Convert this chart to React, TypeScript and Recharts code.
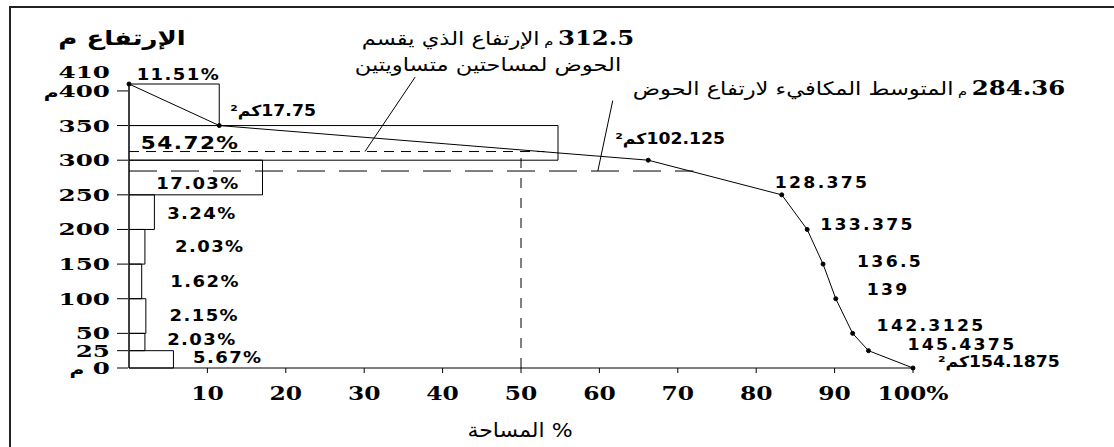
import React from 'react'
import {
  ComposedChart,
  Line,
  XAxis,
  YAxis,
  ReferenceArea,
  ReferenceLine,
  ReferenceDot,
  LabelList,
  Customized,
} from 'recharts'

// hypsometric curve: elevation (m) vs cumulative basin area (km²)
const elevations = [410, 350, 300, 250, 200, 150, 100, 50, 25, 0]
const cumulativeArea = [0, 17.75, 102.125, 128.375, 133.375, 136.5, 139, 142.3125, 145.4375, 154.1875]
const totalArea = 154.1875

// elevation bands and their share (%) of the basin area
const bandTop = [410, 350, 300, 250, 200, 150, 100, 50, 25]
const bandBottom = [350, 300, 250, 200, 150, 100, 50, 25, 0]
const bandShare = [11.51, 54.72, 17.03, 3.24, 2.03, 1.62, 2.15, 2.03, 5.67]

const yTicks = [0, 25, 50, 100, 150, 200, 250, 300, 350, 400, 410]
const xTicks = [10, 20, 30, 40, 50, 60, 70, 80, 90, 100]

const medianElevation = 312.5
const medianReach = 53
const meanElevation = 284.36
const meanReach = 72
const halfArea = 50

// points whose label carries the km² unit
const unitPoints = [1, 2, 9]

// label placement (offsets from point: left edge dx, baseline dy)
const pointLabelShift = [
  [0, 0], [11, -10], [-33, -16], [-7, -7], [13, 1], [34, 3], [31, -4], [24, -2], [39, -1], [25, -1],
]
// centre of each band label, in axis units
const shareLabelPos = [
  [6.3, 423], [7.8, 325], [8.8, 265], [9.3, 223], [10.3, 174], [9.7, 124], [9.6, 75], [9.3, 40], [12.6, 14],
]

const curve = elevations.map((elev, i) => ({
  pct: (cumulativeArea[i] / totalArea) * 100,
  elev,
  area: cumulativeArea[i],
}))

const INK = '#000'
const RLI = '\u2067'
const PDI = '\u2069'
const LRM = '\u200E'

// text stretched horizontally around its anchor
function WideText({ x, y, sx, anchor, children, ...rest }: any) {
  return (
    <g transform={`translate(${x},${y}) scale(${sx},1)`}>
      <text x={0} y={0} textAnchor={anchor} fill={INK} {...rest}>
        {children}
      </text>
    </g>
  )
}

function ElevationTick({ x, y, payload }: any) {
  const v = payload.value
  const lift = v === 410 ? -12 : 0
  const unit = v === 0 || v === 400
  return (
    <g>
      {v !== 410 && <line x1={x + 7} x2={x + 18} y1={y} y2={y} stroke={INK} />}
      <WideText x={x} y={y + 6 + lift} sx={1.45} anchor="end" fontFamily="DejaVu Serif" fontWeight="bold" fontSize={17}>
        {unit && (
          <tspan fontFamily="DejaVu Sans" fontWeight="bold" fontSize={14}>
            م
          </tspan>
        )}
        {v === 0 ? `${LRM} 0` : unit ? `${LRM}${v}` : v}
      </WideText>
    </g>
  )
}

function AreaTick({ x, y, payload }: any) {
  const v = payload.value
  return (
    <WideText x={x} y={y + 13} sx={1.3} anchor="middle" fontFamily="DejaVu Serif" fontWeight="bold" fontSize={18}>
      {v === 100 ? '100%' : v}
    </WideText>
  )
}

function renderPointLabel(props: any) {
  const { index, value } = props
  if (!index) return null
  const px = props.x ?? props.viewBox?.x
  const py = props.y ?? props.viewBox?.y
  const [dx, dy] = pointLabelShift[index]
  const text = unitPoints.includes(index) ? `${RLI}${value}كم²${PDI}` : `${value}`
  return (
    <WideText
      key={`pl-${index}`}
      x={px + dx}
      y={py + dy}
      sx={1.15}
      anchor="start"
      fontFamily="DejaVu Sans"
      fontWeight="bold"
      fontSize={15}
      letterSpacing={2}
    >
      {text}
    </WideText>
  )
}

function ShareLabel({ viewBox, text, big }: any) {
  return (
    <WideText
      x={viewBox.x}
      y={viewBox.y + (big ? 6 : 5)}
      sx={1.2}
      anchor="middle"
      fontFamily="DejaVu Sans"
      fontWeight="bold"
      fontSize={big ? 18 : 15}
      letterSpacing={1.2}
    >
      {text}
    </WideText>
  )
}

function Annotations() {
  return (
    <g fill={INK}>
      <WideText x={122} y={45} sx={1.3} anchor="middle" fontFamily="DejaVu Sans" fontWeight="bold" fontSize={20}>
        الإرتفاع م
      </WideText>
      <WideText x={498} y={45} sx={1.22} anchor="middle" direction="rtl" fontFamily="DejaVu Sans" fontSize={18.5}>
        <tspan fontFamily="DejaVu Serif" fontWeight="bold" fontSize={20}>
          312.5
        </tspan>
        <tspan fontSize={12}> م </tspan>
        <tspan>الإرتفاع الذي يقسم</tspan>
      </WideText>
      <WideText x={488} y={71} sx={1.22} anchor="middle" direction="rtl" fontFamily="DejaVu Sans" fontSize={18.5}>
        الحوض لمساحتين متساويتين
      </WideText>
      <WideText x={849} y={95} sx={1.22} anchor="middle" direction="rtl" fontFamily="DejaVu Sans" fontSize={18.5}>
        <tspan fontFamily="DejaVu Serif" fontWeight="bold" fontSize={20}>
          284.36
        </tspan>
        <tspan fontSize={12}> م </tspan>
        <tspan>المتوسط المكافيء لارتفاع الحوض</tspan>
      </WideText>
      <WideText x={520} y={437} sx={1.1} anchor="middle" direction="rtl" fontFamily="DejaVu Sans" fontSize={20}>
        % المساحة
      </WideText>
    </g>
  )
}

export default function App() {
  return (
    <div style={{ position: 'relative', width: 1114, height: 447, overflow: 'hidden', background: '#fff' }}>
      <style>{'body{margin:0}'}</style>
      <div
        style={{
          position: 'absolute',
          left: 9,
          top: 6,
          width: 1200,
          height: 500,
          borderLeft: '2px solid #222',
          borderTop: '2px solid #222',
        }}
      />
      <div style={{ position: 'absolute', left: 0, top: 0 }}>
        <ComposedChart width={1114} height={447} data={curve} margin={{ top: 84, right: 201, bottom: 39, left: 0 }}>
          <XAxis
            dataKey="pct"
            type="number"
            domain={[0, 100]}
            ticks={xTicks}
            interval={0}
            height={40}
            tickSize={5}
            tickMargin={14}
            axisLine={{ stroke: INK }}
            tickLine={{ stroke: INK }}
            tick={<AreaTick />}
          />
          <YAxis
            type="number"
            domain={[0, 410]}
            ticks={yTicks}
            interval={0}
            width={129}
            tickSize={11}
            tickMargin={8}
            axisLine={{ stroke: INK }}
            tickLine={false}
            tick={<ElevationTick />}
          />

          {/* area share of each elevation band */}
          {bandShare.map((s, i) => (
            <ReferenceArea
              key={`band-${i}`}
              x1={0}
              x2={s}
              y1={bandBottom[i]}
              y2={bandTop[i]}
              fill="none"
              stroke={INK}
              strokeWidth={1}
            />
          ))}
          {bandShare.map((s, i) => (
            <ReferenceDot
              key={`share-${i}`}
              x={shareLabelPos[i][0]}
              y={shareLabelPos[i][1]}
              r={0}
              fill="none"
              stroke="none"
              ifOverflow="visible"
              label={(p: any) => <ShareLabel {...p} text={`${s}%`} big={i === 1} />}
            />
          ))}

          {/* median elevation splitting the basin into two equal areas */}
          <ReferenceLine
            segment={[{ x: 0, y: medianElevation }, { x: medianReach, y: medianElevation }]}
            stroke={INK}
            strokeDasharray="10 7"
          />
          <ReferenceLine
            segment={[{ x: halfArea, y: 0 }, { x: halfArea, y: medianElevation }]}
            stroke={INK}
            strokeDasharray="10 10"
          />
          {/* mean elevation */}
          <ReferenceLine
            segment={[{ x: 0, y: meanElevation }, { x: meanReach, y: meanElevation }]}
            stroke={INK}
            strokeDasharray="28 14"
          />

          {/* leaders to the annotations */}
          <ReferenceLine
            segment={[{ x: 30.1, y: medianElevation }, { x: 36.5, y: 420 }]}
            stroke={INK}
            ifOverflow="visible"
          />
          <ReferenceLine
            segment={[{ x: 59.8, y: meanElevation }, { x: 61.7, y: 386 }]}
            stroke={INK}
            ifOverflow="visible"
          />

          <Line
            dataKey="elev"
            type="linear"
            stroke={INK}
            strokeWidth={1}
            dot={{ r: 2, fill: INK, stroke: INK }}
            isAnimationActive={false}
          >
            <LabelList dataKey="area" content={renderPointLabel} />
          </Line>

          <Customized component={<Annotations />} />
        </ComposedChart>
      </div>
    </div>
  )
}
